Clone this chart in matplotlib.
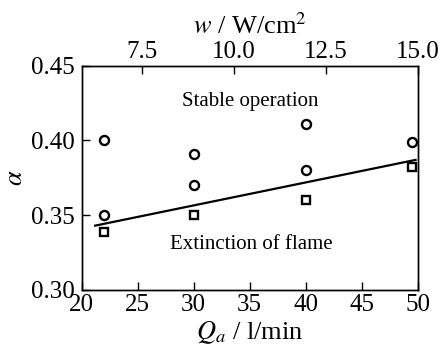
import matplotlib
matplotlib.use("Agg")
import matplotlib.pyplot as plt

plt.rcParams['font.family'] = 'Liberation Serif'
plt.rcParams['mathtext.fontset'] = 'stix'

# stable operation points (circles)
stable_Q = [22, 22, 30, 30, 40, 40, 49.5]
stable_alpha = [0.400, 0.350, 0.391, 0.370, 0.411, 0.380, 0.399]
# extinction points (squares)
ext_Q = [22, 30, 40, 49.5]
ext_alpha = [0.339, 0.350, 0.360, 0.382]
# boundary line
line_Q = [21.2, 49.8]
line_alpha = [0.343, 0.387]

w_lim = (5.85, 15.0)

fig = plt.figure(figsize=(4.44, 3.48), dpi=100)
ax = fig.add_axes([0.184, 0.167, 0.757, 0.644])

ax.plot(line_Q, line_alpha, color='black', lw=1.6)
ax.plot(stable_Q, stable_alpha, 'o', ms=6.5, mfc='white', mec='black', mew=1.7, ls='none')
ax.plot(ext_Q, ext_alpha, 's', ms=6.0, mfc='white', mec='black', mew=1.7, ls='none')

ax.text(35, 0.426, "Stable operation", ha='center', va='center', fontsize=15)
ax.text(35.1, 0.3307, "Extinction of flame", ha='center', va='center', fontsize=15)

ax.set_xlim(20, 50)
ax.set_ylim(0.30, 0.45)
ax.set_xticks([20, 25, 30, 35, 40, 45, 50])
ax.set_yticks([0.30, 0.35, 0.40, 0.45])
ax.set_yticklabels(["0.30", "0.35", "0.40", "0.45"])
ax.tick_params(direction='in', length=6, width=1, labelsize=18,
               top=False, right=False)
ax.tick_params(axis='y', pad=5)
ax.tick_params(axis='x', pad=3)
ax.set_xlabel(r"$Q_a$ / l/min", fontsize=19, labelpad=2)
ax.set_ylabel(r"$\alpha$", fontsize=19, labelpad=3)

ax2 = ax.twiny()
ax2.set_xlim(*w_lim)
ax2.set_xticks([7.5, 10.0, 12.5, 15.0])
ax2.set_xticklabels(["7.5", "10.0", "12.5", "15.0"])
ax2.tick_params(direction='in', length=6, width=1, labelsize=18, pad=2)
ax2.set_xlabel(r"$w$ / W/cm$^2$", fontsize=19, labelpad=5)

for a in (ax, ax2):
    for s in a.spines.values():
        s.set_linewidth(1.0)

fig.savefig("out.png", dpi=100)
